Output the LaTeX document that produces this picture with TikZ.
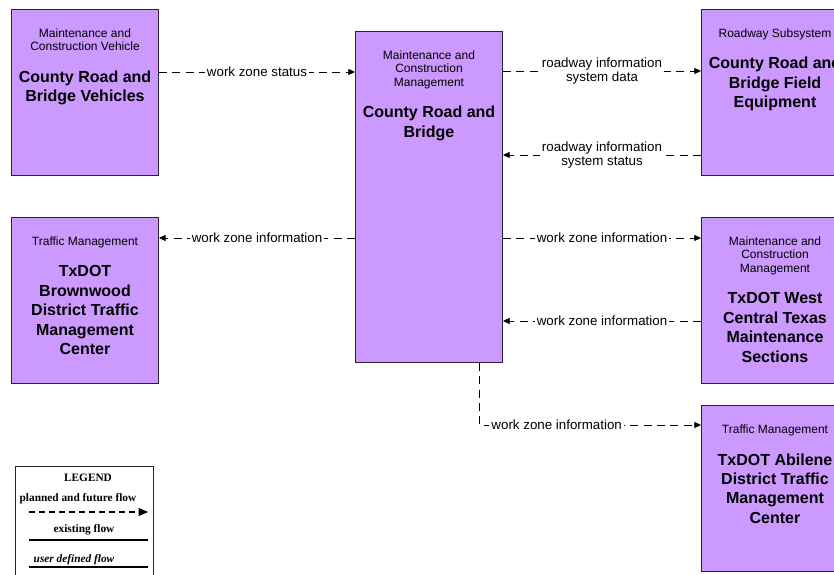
\documentclass[tikz,border=0pt]{standalone}
\usepackage{fontspec}
\setmainfont{Liberation Sans}
\newfontfamily\legfont{Liberation Serif}
\usetikzlibrary{arrows.meta,calc}

\definecolor{mcpurple}{HTML}{CC99FF}
\newcommand{\catfont}{\fontsize{9}{10}\selectfont}
\newcommand{\namefont}{\fontsize{12}{14.6}\selectfont\bfseries}
% box text: small class name on top, bold system name below
\newcommand{\sysbox}[3]{\parbox[t][#1][t]{110.25pt}{\centering\vspace*{14.5pt}%
  {\catfont #2\par}\vspace{9pt}{\namefont #3\par}}}

\begin{document}
\begin{tikzpicture}[
    x=0.75pt, y=-0.75pt,
    sys/.style={draw=black!85, fill=mcpurple, anchor=north west, inner sep=0pt, line width=0.75pt},
    flow/.style={draw, dash pattern=on 6pt off 4pt, line width=0.6pt, -{Triangle[length=5pt,width=4.5pt]}},
    flowlbl/.style={fill=white, inner sep=1.5pt, font=\fontsize{10}{11}\selectfont, align=center},
    legtxt/.style={inner sep=0pt, font=\legfont\fontsize{8.5}{10}\selectfont\bfseries},
    legline/.style={line width=1.2pt},
]
\useasboundingbox (0,0) rectangle (834,574);

% Systems
\node[sys] (veh) at (11,9) {\sysbox{124.5pt}{Maintenance and\\Construction Vehicle}{County Road and\\Bridge Vehicles}};
\node[sys] (cen) at (355,31) {\sysbox{248.25pt}{Maintenance and\\Construction\\Management}{County Road and\\Bridge}};
\node[sys] (fld) at (701,9) {\sysbox{124.5pt}{Roadway Subsystem}{County Road and\\Bridge Field\\Equipment}};
\node[sys] (btm) at (11,217) {\sysbox{124.5pt}{Traffic Management}{TxDOT\\Brownwood\\District Traffic\\Management\\Center}};
\node[sys] (wct) at (701,217) {\sysbox{124.5pt}{Maintenance and\\Construction\\Management}{TxDOT West\\Central Texas\\Maintenance\\Sections}};
\node[sys] (abl) at (701,405) {\sysbox{124.5pt}{Traffic Management}{TxDOT Abilene\\District Traffic\\Management\\Center}};

% Flows
\coordinate (f1) at ($(veh.north east)+(0,63)$);
\draw[flow] (f1) -- (f1 -| cen.west) node[flowlbl, midway] (l1) {work zone status};
\coordinate (f2) at ($(fld.north west)+(0,62)$);
\draw[flow] (f2 -| cen.east) -- (f2) node[flowlbl, midway] (l2) {roadway information\\system data};
\coordinate (f3) at ($(fld.north west)+(0,146)$);
\draw[flow] (f3) -- (f3 -| cen.east) node[flowlbl, midway] (l3) {roadway information\\system status};
\coordinate (f4) at ($(btm.north east)+(0,21)$);
\draw[flow] (f4 -| cen.west) -- (f4) node[flowlbl, midway] (l4) {work zone information};
\coordinate (f5) at ($(wct.north west)+(0,21)$);
\draw[flow] (f5 -| cen.east) -- (f5) node[flowlbl, midway] (l5) {work zone information};
\coordinate (f6) at ($(wct.north west)+(0,104)$);
\draw[flow] (f6) -- (f6 -| cen.east) node[flowlbl, midway] (l6) {work zone information};
\coordinate (f7) at ($(cen.south west)+(124,0)$);
\coordinate (f8) at ($(abl.north west)+(0,20)$);
\draw[flow] (f7) |- (f8) node[flowlbl, pos=0.675] (l7) {work zone information};

% Legend
\node[draw=black!85, line width=0.75pt, anchor=north west, minimum width=103.5pt, minimum height=90pt, inner sep=0pt] (leg) at (15,466) {};
\node[legtxt] (legtitle) at (88,478) {LEGEND};
\node[legtxt] (legplan) at (78,499) {planned and future flow};
\coordinate (lp1) at (29,512);
\coordinate (lp2) at (148,512);
\draw[dash pattern=on 4.5pt off 3pt, line width=1pt, -{Triangle[length=7pt,width=6pt]}] (lp1) -- (lp2);
\node[legtxt] (legexist) at (84,530) {existing flow};
\coordinate (le1) at (29,540);
\coordinate (le2) at (148,540);
\draw[legline] (le1) -- (le2);
\node[legtxt, font=\legfont\fontsize{8.5}{10}\selectfont\bfseries\itshape] (leguser) at (74,560) {user defined flow};
\coordinate (lu1) at (29,567);
\coordinate (lu2) at (148,567);
\draw[legline] (lu1) -- (lu2);
\end{tikzpicture}
\end{document}
